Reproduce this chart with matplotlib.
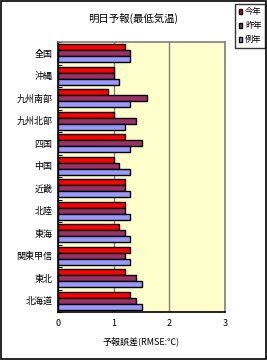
import matplotlib.pyplot as plt
from matplotlib.patches import Rectangle
import numpy as np

plt.rcParams['font.family'] = ['Noto Sans CJK JP', 'DejaVu Sans']

regions = ['全国', '沖縄', '九州南部', '九州北部', '四国', '中国',
           '近畿', '北陸', '東海', '関東甲信', '東北', '北海道']
this_year = [1.2, 1.0, 0.9, 1.0, 1.2, 1.0, 1.2, 1.2, 1.1, 1.3, 1.2, 1.3]
last_year = [1.3, 1.0, 1.6, 1.4, 1.5, 1.1, 1.2, 1.2, 1.2, 1.2, 1.4, 1.4]
normal_year = [1.3, 1.1, 1.3, 1.2, 1.3, 1.3, 1.3, 1.3, 1.3, 1.3, 1.5, 1.5]
series_names = ['今年', '昨年', '例年']
colors = ['#FF0000', '#993366', '#9999FF']

fig = plt.figure(figsize=(2.67, 3.6), dpi=100)
fig.patch.set_facecolor('white')
# outer frame of the chart
fig.patches.append(Rectangle((0.002, 0.002), 0.995, 0.995, transform=fig.transFigure,
                             fill=False, edgecolor='black', linewidth=1.2))

ax = fig.add_axes([58 / 267, 1 - 312 / 360, (225 - 58) / 267, (312 - 42) / 360])
ax.set_facecolor('#FFFFCC')

n = len(regions)
y = np.arange(n)
h = 0.26
handles = []
for i, (vals, c) in enumerate(zip([this_year, last_year, normal_year], colors)):
    b = ax.barh(y + (i - 1) * h, vals, height=h, color=c, edgecolor='black',
                linewidth=1.0, zorder=3)
    handles.append(b)

ax.set_xlim(0, 3)
ax.set_ylim(n - 0.5, -0.5)
ax.set_xticks([0, 1, 2, 3])
ax.set_xticklabels(['0', '1', '2', '3'], fontsize=6.5)
ax.set_yticks(y)
ax.set_yticklabels(regions, fontsize=6.5)
ax.tick_params(axis='y', length=0, pad=4)
ax.tick_params(axis='x', length=0, pad=5)
ax.set_yticks(np.arange(n + 1) - 0.5, minor=True)
ax.tick_params(axis='y', which='minor', length=3, direction='in', width=0.8)
ax.grid(axis='x', color='#808080', linewidth=1.0, zorder=1)

for side in ['top', 'right']:
    ax.spines[side].set_color('#808080')
    ax.spines[side].set_linewidth(1.2)
for side in ['left', 'bottom']:
    ax.spines[side].set_color('black')
    ax.spines[side].set_linewidth(1.2)

ax.set_xlabel('予報誤差(RMSE:℃)', fontsize=6.5, labelpad=6)
fig.text(133 / 267, 1 - 18 / 360, '明日予報(最低気温)', ha='center', va='center', fontsize=7.5)

leg = fig.legend(handles, series_names, loc='upper right',
                 bbox_to_anchor=(265 / 267, 1 - 4 / 360), fontsize=6,
                 handlelength=0.45, handleheight=0.45, handletextpad=0.3,
                 labelspacing=0.6, borderpad=0.4, borderaxespad=0.0,
                 frameon=True, fancybox=False)
leg.get_frame().set_edgecolor('black')
leg.get_frame().set_linewidth(1.0)

fig.savefig('out.png', dpi=100)
